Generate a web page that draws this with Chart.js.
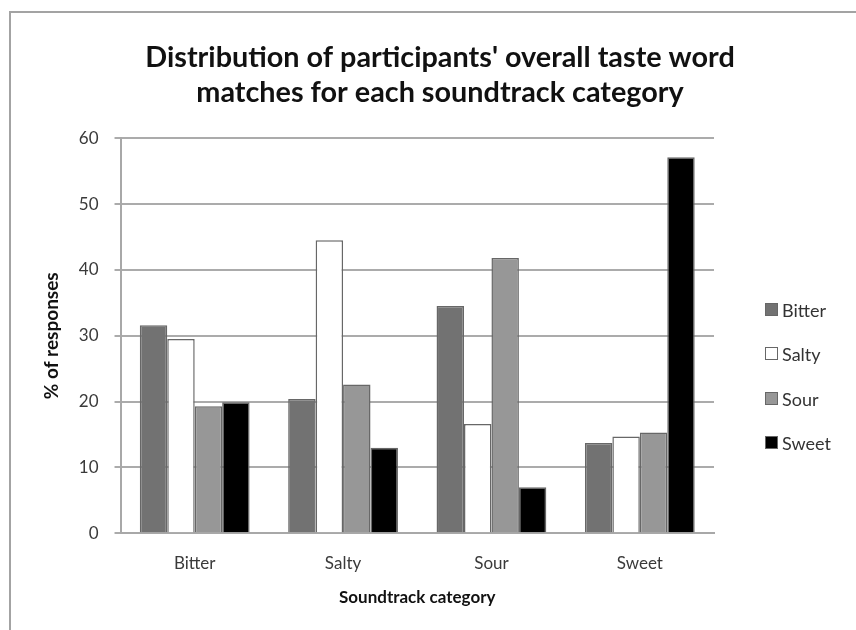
<!DOCTYPE html>
<html>
<head>
<meta charset="utf-8">
<script src="https://cdn.jsdelivr.net/npm/chart.js@4.4.0/dist/chart.umd.min.js"></script>
<style>
    html, body { margin: 0; padding: 0; background: #fff; overflow: hidden; }
    #frame { position: absolute; left: 9px; top: 11px; width: 900px; height: 700px; border: 2px solid #a3a3a3; }
    #wrap { position: absolute; left: 0; top: 0; width: 856px; height: 630px; }
    #legend { position: absolute; left: 765px; top: 288px; font-family: Lato, "Open Sans", sans-serif; font-size: 18px; color: #333; }
    #legend .item { position: relative; height: 44.3px; line-height: 44.3px; padding-left: 17px; white-space: nowrap; }
    #legend .box { position: absolute; left: 0; top: 15px; width: 11px; height: 11px; border: 1.5px solid #676767; }
</style>
</head>
<body>
<div id="frame"></div>
<div id="wrap"><canvas id="tasteChart" width="856" height="630"></canvas></div>
<div id="legend"></div>
<script>
// Soundtrack categories (x axis)
const categories = ['Bitter', 'Salty', 'Sour', 'Sweet'];

// % of responses per taste word, one value per soundtrack category
const bitterWord = [31.6, 20.4, 34.5, 13.7];
const saltyWord = [29.5, 44.5, 16.6, 14.7];
const sourWord = [19.3, 22.6, 41.8, 15.3];
const sweetWord = [19.9, 13.0, 7.0, 57.1];

const titleLines = ["Distribution of participants' overall taste word", 'matches for each soundtrack category'];

const FONT = 'Lato, "Open Sans", sans-serif';

const makeSet = (label, data, fill) => ({
    label, data,
    backgroundColor: fill,
    borderColor: '#676767',
    borderWidth: 1.5,
    borderSkipped: 'bottom',
    barPercentage: 1.0,
    categoryPercentage: 0.74,
    yAxisID: 'y'
});

const ctx = document.getElementById('tasteChart').getContext('2d');
const chart = new Chart(ctx, {
    type: 'bar',
    data: {
        labels: categories,
        datasets: [
            makeSet('Bitter', bitterWord, '#727272'),
            makeSet('Salty', saltyWord, '#ffffff'),
            makeSet('Sour', sourWord, '#979797'),
            makeSet('Sweet', sweetWord, '#000000')
        ]
    },
    options: {
        responsive: false,
        animation: false,
        layout: { padding: { left: 40, right: 16, top: 40, bottom: 22 } },
        plugins: {
            title: {
                display: true,
                text: titleLines,
                color: '#111',
                font: { family: FONT, size: 28.8, weight: 'bold', lineHeight: 1.22 },
                padding: { top: 0, bottom: 28 }
            },
            legend: { display: false },
            tooltip: { enabled: false }
        },
        scales: {
            x: {
                grid: { display: false },
                border: { display: true, color: '#a8a8a8', width: 2 },
                ticks: { color: '#3a3a3a', font: { family: FONT, size: 17 }, padding: 12 },
                title: {
                    display: true,
                    text: 'Soundtrack category',
                    color: '#111',
                    font: { family: FONT, size: 17, weight: 'bold' },
                    padding: { top: 2, bottom: 0 }
                }
            },
            y: {
                min: 0,
                max: 60,
                ticks: { stepSize: 10, color: '#3a3a3a', font: { family: FONT, size: 17 }, padding: 16 },
                grid: { color: '#ababab', lineWidth: 2, tickLength: 6 },
                border: { display: true, color: '#a8a8a8', width: 2 },
                title: {
                    display: true,
                    text: '% of responses',
                    color: '#111',
                    font: { family: FONT, size: 19, weight: 'bold' },
                    padding: { top: 0, bottom: 0 }
                }
            },
            // empty right-hand axis that only reserves room for the legend
            legendSpace: {
                position: 'right',
                display: true,
                grid: { display: false, drawOnChartArea: false },
                border: { display: false },
                ticks: { display: false },
                afterFit: (scale) => { scale.width = 126; }
            }
        }
    }
});

// legend built from the chart's datasets
const legendEl = document.getElementById('legend');
chart.data.datasets.forEach(ds => {
    const row = document.createElement('div');
    row.className = 'item';
    const box = document.createElement('span');
    box.className = 'box';
    box.style.background = ds.backgroundColor;
    row.appendChild(box);
    row.appendChild(document.createTextNode(ds.label));
    legendEl.appendChild(row);
});
</script>
</body>
</html>
